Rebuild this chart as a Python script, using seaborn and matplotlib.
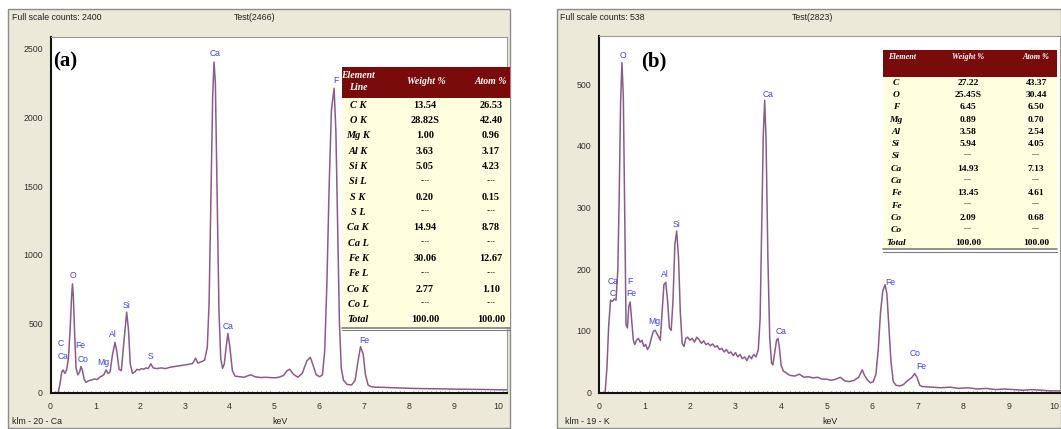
import matplotlib
matplotlib.use("Agg")
import matplotlib.pyplot as plt
import seaborn as sns
import pandas as pd
from matplotlib.patches import Rectangle
from matplotlib.ticker import MultipleLocator

# ---------------- data: spectrum (a) ----------------
kev_a = [0.00, 0.17, 0.21, 0.25, 0.28, 0.32, 0.36, 0.40, 0.44, 0.47, 0.49, 0.51, 0.54, 0.57, 0.61,
         0.65, 0.68, 0.71, 0.75, 0.79, 0.84, 0.89, 0.94, 0.99, 1.04, 1.09, 1.14, 1.19, 1.24, 1.28,
         1.33, 1.38, 1.44, 1.48, 1.53, 1.58, 1.63, 1.70, 1.74, 1.78, 1.83, 1.88, 1.93, 1.98, 2.03,
         2.08, 2.13, 2.18, 2.24, 2.29, 2.37, 2.47, 2.57, 2.67, 2.77, 2.87, 2.97, 3.07, 3.17, 3.24,
         3.29, 3.37, 3.44, 3.50, 3.54, 3.58, 3.62, 3.65, 3.68, 3.72, 3.76, 3.80, 3.84, 3.88, 3.92,
         3.96, 4.00, 4.06, 4.12, 4.22, 4.32, 4.42, 4.47, 4.57, 4.70, 4.80, 4.90, 5.00, 5.10, 5.20,
         5.28, 5.34, 5.42, 5.52, 5.62, 5.72, 5.80, 5.86, 5.93, 6.01, 6.07, 6.12, 6.17, 6.22, 6.27,
         6.33, 6.37, 6.41, 6.45, 6.49, 6.54, 6.62, 6.72, 6.80, 6.86, 6.92, 6.98, 7.03, 7.09, 7.16,
         7.25, 7.5, 7.75, 8.0, 8.25, 8.5, 8.75, 9.0, 9.25, 9.5, 9.75, 10.0, 10.2]
counts_a = [0, 0, 60, 150, 165, 140, 165, 250, 470, 690, 790, 700, 420, 180, 130,
            150, 190, 165, 100, 75, 85, 90, 95, 100, 95, 110, 120, 130, 165, 140,
            150, 270, 365, 300, 170, 160, 340, 585, 460, 210, 140, 150, 170, 165, 175,
            170, 180, 175, 210, 180, 175, 180, 175, 185, 190, 195, 200, 205, 212, 250,
            215, 225, 237, 330, 650, 1400, 2150, 2400, 2250, 1400, 600, 250, 177, 210, 330,
            430, 340, 160, 120, 116, 112, 125, 130, 115, 110, 112, 110, 108, 112, 125,
            160, 170, 135, 112, 140, 230, 257, 200, 130, 116, 130, 300, 800, 1500, 2050,
            2210, 1900, 1200, 500, 180, 90, 60, 56, 90, 220, 334, 280, 130, 55, 44,
            40, 38, 35, 32, 30, 29, 28, 26, 25, 24, 23, 21, 20]

# ---------------- data: spectrum (b) ----------------
kev_b = [0.00, 0.14, 0.18, 0.22, 0.26, 0.30, 0.34, 0.38, 0.42, 0.45, 0.48, 0.51, 0.54, 0.57, 0.60,
         0.63, 0.66, 0.69, 0.72, 0.76, 0.79, 0.83, 0.87, 0.91, 0.95, 0.99, 1.03, 1.07, 1.11, 1.16,
         1.20, 1.24, 1.28, 1.32, 1.35, 1.39, 1.43, 1.47, 1.51, 1.55, 1.59, 1.63, 1.67, 1.71, 1.75,
         1.79, 1.83, 1.87, 1.91, 1.95, 2.00, 2.05, 2.10, 2.15, 2.20, 2.25, 2.30, 2.35, 2.40, 2.45,
         2.50, 2.55, 2.60, 2.65, 2.70, 2.75, 2.80, 2.85, 2.90, 2.95, 3.00, 3.05, 3.10, 3.15, 3.20,
         3.25, 3.30, 3.35, 3.40, 3.45, 3.50, 3.54, 3.57, 3.61, 3.64, 3.67, 3.71, 3.75, 3.79, 3.82,
         3.86, 3.90, 3.93, 3.96, 4.00, 4.05, 4.10, 4.15, 4.20, 4.30, 4.40, 4.50, 4.60, 4.70, 4.80,
         4.90, 5.00, 5.10, 5.20, 5.30, 5.40, 5.50, 5.60, 5.70, 5.78, 5.83, 5.90, 5.96, 6.02, 6.08,
         6.13, 6.18, 6.23, 6.28, 6.32, 6.36, 6.41, 6.46, 6.52, 6.60, 6.68, 6.75, 6.82, 6.87, 6.93,
         6.98, 7.04, 7.10, 7.30, 7.50, 7.70, 7.90, 8.10, 8.30, 8.50, 8.70, 8.90, 9.10, 9.30, 9.50,
         9.70, 9.90, 10.12]
counts_b = [0, 0, 40, 110, 150, 148, 152, 150, 200, 320, 470, 535, 480, 300, 110,
            105, 140, 147, 120, 85, 78, 85, 88, 82, 85, 75, 78, 70, 75, 90,
            100, 101, 95, 90, 85, 130, 175, 179, 150, 105, 101, 150, 240, 262, 220,
            130, 80, 75, 88, 90, 85, 88, 82, 90, 86, 80, 84, 78, 80, 76,
            79, 74, 76, 70, 72, 66, 70, 64, 66, 60, 65, 58, 62, 55, 58,
            52, 60, 55, 62, 58, 70, 120, 250, 420, 474, 410, 220, 90, 48, 45,
            65, 85, 88, 75, 45, 35, 33, 30, 28, 27, 30, 25, 26, 24, 25,
            22, 22, 20, 22, 25, 19, 18, 20, 25, 37, 28, 20, 16, 18, 30,
            70, 130, 165, 175, 160, 110, 50, 18, 12, 11, 13, 18, 22, 25, 31,
            25, 12, 10, 9, 8, 9, 7, 8, 6, 7, 5, 6, 5, 4, 5,
            4, 3, 3]

# ---------------- data: peak labels ----------------
lab_a_text = ["Ca", "O", "Si", "Al", "C", "Ca", "Fe", "Co", "Mg", "S", "Ca", "Fe", "F"]
lab_a_kev = [3.68, 0.49, 1.69, 1.40, 0.23, 0.29, 0.66, 0.73, 1.18, 2.24, 3.96, 7.00, 6.37]
lab_a_cnt = [2465, 849, 636, 419, 358, 261, 341, 242, 221, 266, 479, 377, 2268]

lab_b_text = ["O", "Ca", "Si", "Al", "Ca", "C", "F", "Fe", "Mg", "Ca", "Fe", "Co", "Fe"]
lab_b_kev = [0.53, 3.71, 1.71, 1.46, 0.32, 0.30, 0.69, 0.72, 1.23, 4.01, 6.40, 6.94, 7.07]
lab_b_cnt = [547, 484, 273, 192, 181, 161, 181, 161, 115, 99, 178, 64, 43]

# ---------------- data: tables ----------------
tab_a_header = ["Element\nLine", "Weight %", "Atom %"]
tab_a_elem = ["C K", "O K", "Mg K", "Al K", "Si K", "Si L", "S K", "S L", "Ca K", "Ca L",
              "Fe K", "Fe L", "Co K", "Co L", "Total"]
tab_a_wt = ["13.54", "28.82S", "1.00", "3.63", "5.05", "----", "0.20", "----", "14.94", "----",
            "30.06", "----", "2.77", "----", "100.00"]
tab_a_at = ["26.53", "42.40", "0.96", "3.17", "4.23", "----", "0.15", "----", "8.78", "----",
            "12.67", "----", "1.10", "----", "100.00"]

tab_b_header = ["Element", "Weight %", "Atom %"]
tab_b_elem = ["C", "O", "F", "Mg", "Al", "Si", "Si", "Ca", "Ca", "Fe", "Fe", "Co", "Co", "Total"]
tab_b_wt = ["27.22", "25.45S", "6.45", "0.89", "3.58", "5.94", "----", "14.93", "----", "13.45",
            "----", "2.09", "----", "100.00"]
tab_b_at = ["43.37", "30.44", "6.50", "0.70", "2.54", "4.05", "----", "7.13", "----", "4.61",
            "----", "0.68", "----", "100.00"]

# ---------------- styling ----------------
sns.set_theme(style="white")
plt.rcParams["font.family"] = ["Liberation Sans", "DejaVu Sans"]

W, H = 1061, 429
fig = plt.figure(figsize=(W / 100, H / 100), dpi=100)
fig.patch.set_facecolor("white")


def fx(x):
    return x / W


def fy(y):
    return 1 - y / H


BEIGE = "#ECE9D8"
LINE = "#8A5C88"
BLUE = "#3F3FF5"
MAROON = "#7A0B0B"
YELLOW = "#FFFFE0"
TXT = "#333333"

# panel backgrounds
for (x0, x1) in [(8, 510), (557, 1061)]:
    fig.add_artist(Rectangle((fx(x0), fy(428)), (x1 - x0) / W, (428 - 9) / H,
                             transform=fig.transFigure, facecolor=BEIGE,
                             edgecolor="#8C8C8C", linewidth=1.0, zorder=-5))

# panel headers / footers
fig.text(fx(12), fy(17), "Full scale counts: 2400", fontsize=6.3, color="#222222", va="center")
fig.text(fx(255), fy(17), "Test(2466)", fontsize=6.3, color="#222222", va="center", ha="center")
fig.text(fx(12), fy(421), "klm - 20 - Ca", fontsize=6.3, color="#222222", va="center")
fig.text(fx(280), fy(421), "keV", fontsize=6.3, color="#222222", va="center", ha="center")

fig.text(fx(560), fy(17), "Full scale counts: 538", fontsize=6.3, color="#222222", va="center")
fig.text(fx(813), fy(17), "Test(2823)", fontsize=6.3, color="#222222", va="center", ha="center")
fig.text(fx(565), fy(421), "klm - 19 - K", fontsize=6.3, color="#222222", va="center")
fig.text(fx(830), fy(421), "keV", fontsize=6.3, color="#222222", va="center", ha="center")


def make_axes(left, right, top, bottom, xmax, ymax, yticks, kev, counts,
              ltext, lkev, lcnt):
    ax = fig.add_axes([fx(left), fy(bottom), (right - left) / W, (bottom - top) / H])
    ax.set_facecolor("white")
    df = pd.DataFrame({"keV": kev, "counts": counts})
    sns.lineplot(data=df, x="keV", y="counts", ax=ax, color=LINE, linewidth=1.1,
                 estimator=None, sort=False)
    ax.set_xlim(0, xmax)
    ax.set_ylim(0, ymax)
    ax.set_xticks(range(0, 11))
    ax.set_yticks(yticks)
    ax.xaxis.set_minor_locator(MultipleLocator(0.1))
    ax.set_xlabel("")
    ax.set_ylabel("")
    ax.tick_params(axis="both", which="major", labelsize=6.3, labelcolor=TXT, color="#333333",
                   direction="out", length=4, width=0.8, pad=1.5)
    ax.tick_params(axis="x", which="major", length=5)
    ax.tick_params(axis="x", which="minor", direction="in", length=1.8, width=0.7,
                   color="#777777", bottom=True)
    for s in ["left", "bottom"]:
        ax.spines[s].set_color("#111111")
        ax.spines[s].set_linewidth(1.5)
    for s in ["top", "right"]:
        ax.spines[s].set_color("#9A9A9A")
        ax.spines[s].set_linewidth(0.8)
    for t, k, c in zip(ltext, lkev, lcnt):
        ax.text(k, c, t, color=BLUE, fontsize=6.2, ha="center", va="center")
    return ax


ax_a = make_axes(50.5, 507, 37, 392.7, (507 - 50.5) / 44.8, (392.7 - 37) / 0.13776,
                 [0, 500, 1000, 1500, 2000, 2500], kev_a, counts_a,
                 lab_a_text, lab_a_kev, lab_a_cnt)
ax_b = make_axes(598.7, 1060, 36, 392.7, (1060 - 598.7) / 45.6, (392.7 - 36) / 0.617,
                 [0, 100, 200, 300, 400, 500], kev_b, counts_b,
                 lab_b_text, lab_b_kev, lab_b_cnt)

# panel letters
fig.text(fx(65), fy(61), "(a)", fontsize=15, fontweight="bold", family="Liberation Serif",
         ha="center", va="center", color="black")
fig.text(fx(653.5), fy(61), "(b)", fontsize=15, fontweight="bold", family="Liberation Serif",
         ha="center", va="center", color="black")


def draw_table(left, right, top, head_bot, row_h, n_rows, header, cols, col_x, head_x,
               head_y, fs, hfs):
    bottom = head_bot + row_h * n_rows
    fig.add_artist(Rectangle((fx(left), fy(head_bot)), (right - left) / W, (head_bot - top) / H,
                             transform=fig.transFigure, facecolor=MAROON, edgecolor="none",
                             zorder=5))
    fig.add_artist(Rectangle((fx(left), fy(bottom)), (right - left) / W, (bottom - head_bot) / H,
                             transform=fig.transFigure, facecolor=YELLOW, edgecolor="none",
                             zorder=5))
    # double rule at bottom
    for dy, lw in [(0.5, 1.2), (3.0, 0.8)]:
        fig.add_artist(plt.Line2D([fx(left), fx(right)], [fy(bottom + dy), fy(bottom + dy)],
                                  transform=fig.transFigure, color="#7F7F7F", linewidth=lw,
                                  zorder=6))
    for j, h in enumerate(header):
        fig.text(fx(head_x[j]), fy(head_y), h, color="white", fontsize=hfs,
                 family="Liberation Serif", fontweight="bold", style="italic",
                 ha="center", va="center", linespacing=1.35, zorder=7)
    for i in range(n_rows):
        yc = head_bot + row_h * (i + 0.5)
        for j, col in enumerate(cols):
            s = col[i]
            is_dash = s.startswith("-")
            fig.text(fx(col_x[j]), fy(yc - (1.5 if is_dash else 0)), "----" if is_dash else s,
                     color="black", fontsize=(fs - 2.5) if is_dash else fs,
                     family="Liberation Serif", fontweight="bold",
                     style="italic" if j == 0 else "normal",
                     ha="center", va="center", zorder=7)


draw_table(342, 510, 67, 97.5, 15.33, 15, tab_a_header, [tab_a_elem, tab_a_wt, tab_a_at],
           [358, 425, 491], [358, 426, 491], 81.5, 7.4, 7.0)
draw_table(883, 1057, 50, 76.5, 12.3, 14, tab_b_header, [tab_b_elem, tab_b_wt, tab_b_at],
           [896, 968, 1036], [902, 968, 1036], 57, 6.8, 5.9)

fig.savefig("out.png", dpi=100, facecolor="white")
